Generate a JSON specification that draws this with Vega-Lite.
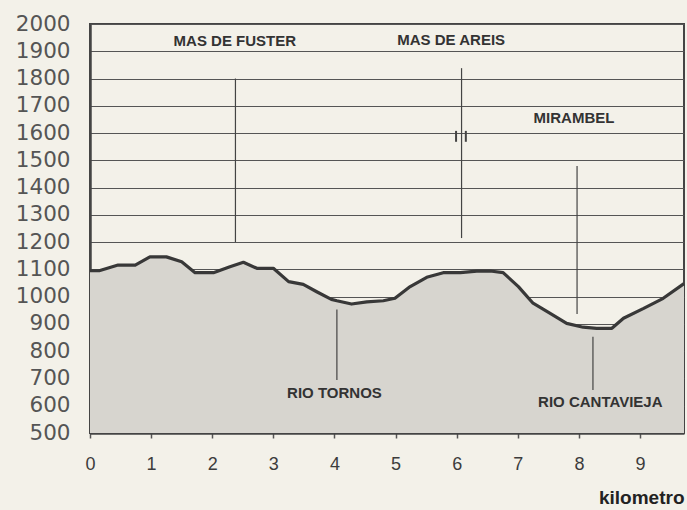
{
  "$schema": "https://vega.github.io/schema/vega-lite/v6.json",
  "width": 594,
  "height": 409,
  "autosize": {"type": "none"},
  "padding": {"left": 90, "top": 24, "right": 3, "bottom": 77},
  "background": "#f3f1e9",
  "config": {
    "font": "Liberation Sans",
    "axis": {"labelFont": "Liberation Sans", "titleFont": "Liberation Sans"},
    "text": {"font": "Liberation Sans"},
    "view": {"stroke": "#444", "strokeWidth": 2, "fill": "#f3f1e9"}
  },
  "datasets": {
    "profile": [
      {"km": 0, "elev": 1095}, {"km": 0.15, "elev": 1095}, {"km": 0.46, "elev": 1116},
      {"km": 0.74, "elev": 1116}, {"km": 0.98, "elev": 1146}, {"km": 1.25, "elev": 1146},
      {"km": 1.5, "elev": 1128}, {"km": 1.72, "elev": 1088}, {"km": 2.02, "elev": 1088},
      {"km": 2.29, "elev": 1110}, {"km": 2.51, "elev": 1126}, {"km": 2.73, "elev": 1104},
      {"km": 3.0, "elev": 1104}, {"km": 3.25, "elev": 1055}, {"km": 3.49, "elev": 1045},
      {"km": 3.71, "elev": 1018}, {"km": 3.95, "elev": 990}, {"km": 4.04, "elev": 985},
      {"km": 4.28, "elev": 973}, {"km": 4.53, "elev": 981}, {"km": 4.8, "elev": 985},
      {"km": 4.99, "elev": 994}, {"km": 5.24, "elev": 1037}, {"km": 5.51, "elev": 1071},
      {"km": 5.78, "elev": 1088}, {"km": 6.06, "elev": 1088}, {"km": 6.33, "elev": 1094},
      {"km": 6.55, "elev": 1094}, {"km": 6.76, "elev": 1088}, {"km": 7.01, "elev": 1037},
      {"km": 7.25, "elev": 976}, {"km": 7.53, "elev": 939}, {"km": 7.8, "elev": 902},
      {"km": 8.07, "elev": 888}, {"km": 8.29, "elev": 884}, {"km": 8.54, "elev": 884},
      {"km": 8.73, "elev": 921}, {"km": 9.06, "elev": 957}, {"km": 9.38, "elev": 994},
      {"km": 9.72, "elev": 1048}
    ],
    "markers": [
      {"km": 2.38, "elev": 1200, "elev2": 1800, "w": "long"},
      {"km": 6.08, "elev": 1215, "elev2": 1838, "w": "long"},
      {"km": 5.99, "elev": 1568, "elev2": 1608, "w": "tick"},
      {"km": 6.15, "elev": 1568, "elev2": 1608, "w": "tick"},
      {"km": 7.97, "elev": 936, "elev2": 1479, "w": "long"},
      {"km": 4.04, "elev": 694, "elev2": 953, "w": "long"},
      {"km": 8.23, "elev": 658, "elev2": 853, "w": "long"}
    ],
    "labels": [
      {"km": 2.37, "elev": 1939, "name": "MAS DE FUSTER"},
      {"km": 5.91, "elev": 1941, "name": "MAS DE AREIS"},
      {"km": 7.92, "elev": 1654, "name": "MIRAMBEL"},
      {"km": 4.0, "elev": 645, "name": "RIO TORNOS"},
      {"km": 8.35, "elev": 612, "name": "RIO CANTAVIEJA"}
    ]
  },
  "encoding": {
    "x": {
      "field": "km", "type": "quantitative",
      "scale": {"domain": [0, 9.72], "nice": false, "zero": false},
      "axis": {
        "values": [0, 1, 2, 3, 4, 5, 6, 7, 8, 9],
        "format": "d",
        "labelOverlap": false,
        "labelFlush": false,
        "grid": false,
        "domainColor": "#444", "domainWidth": 2.5,
        "tickColor": "#555", "tickSize": 5, "tickWidth": 1.5,
        "labelFontSize": 18, "labelColor": "#3c3c3c", "labelPadding": 17,
        "title": "kilometro", "titleAnchor": "end", "titleFontSize": 19,
        "titleFontWeight": "bold", "titleColor": "#222", "titlePadding": 15
      }
    },
    "y": {
      "field": "elev", "type": "quantitative",
      "scale": {"domain": [500, 2000], "nice": false, "zero": false},
      "axis": {
        "values": [500, 600, 700, 800, 900, 1000, 1100, 1200, 1300, 1400, 1500, 1600, 1700, 1800, 1900, 2000],
        "tickCount": 16,
        "format": "d",
        "labelOverlap": false,
        "labelBound": false,
        "labelFlush": false,
        "grid": true, "gridColor": "#555", "gridWidth": 1,
        "ticks": false,
        "domainColor": "#444", "domainWidth": 2.5,
        "labelFont": "DejaVu Sans",
        "labelFontSize": 21.5, "labelColor": "#555", "labelPadding": 20,
        "title": null
      }
    }
  },
  "layer": [
    {
      "data": {"name": "profile"},
      "mark": {"type": "area", "color": "#d7d5cf", "line": false, "clip": true},
      "encoding": {"y2": {"datum": 500}}
    },
    {
      "data": {"name": "profile"},
      "mark": {"type": "line", "color": "#383838", "strokeWidth": 3.2, "strokeJoin": "round"},
      "encoding": {}
    },
    {
      "data": {"name": "markers"},
      "mark": {"type": "rule", "color": "#444"},
      "encoding": {
        "y2": {"field": "elev2"},
        "strokeWidth": {"field": "w", "type": "nominal", "scale": {"domain": ["long", "tick"], "range": [1.2, 2]}, "legend": null}
      }
    },
    {
      "data": {"name": "labels"},
      "mark": {"type": "text", "fontSize": 15, "fontWeight": "bold", "color": "#333", "align": "center", "baseline": "middle"},
      "encoding": {"text": {"field": "name"}}
    }
  ]
}
